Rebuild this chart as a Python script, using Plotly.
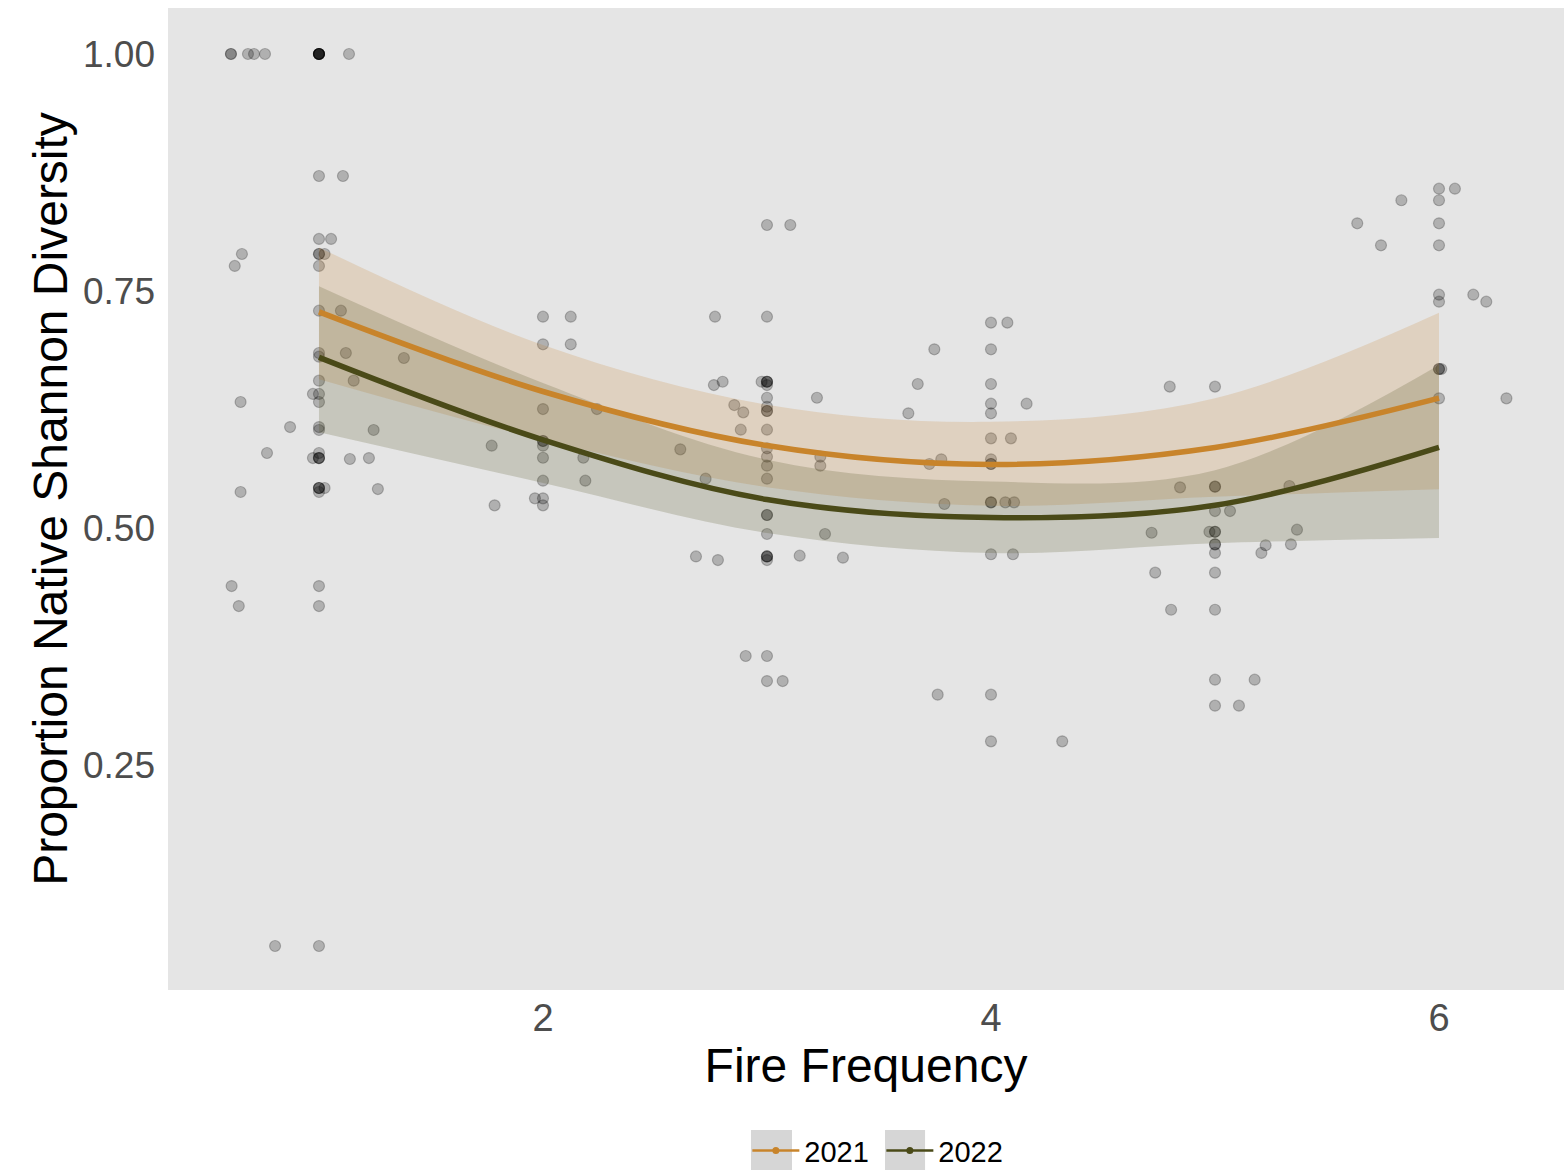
import plotly.graph_objects as go

# Plot-level observations: fire frequency vs. proportion native Shannon diversity
fire_freq = [
    0.607, 0.607, 0.683, 0.710, 0.759, 1.0, 1.0, 1.0, 1.0, 1.0, 1.0, 1.0, 1.134,
    1.0, 1.107, 1.0, 1.054, 0.656, 1.0, 1.0, 1.025, 0.624, 1.0, 1.0, 1.098,
    1.0, 1.12, 1.379, 1.0, 1.0, 1.155, 0.973, 1.0, 1.0, 0.65,
    0.871, 1.0, 1.0, 1.244, 0.768, 1.0, 0.973, 1.0, 1.0, 1.0, 1.138, 1.223,
    0.65, 1.0, 1.0, 1.0, 1.025, 1.0, 1.263, 0.61, 1.0, 0.642, 1.0, 0.804, 1.0,
    2.0, 2.124, 2.0, 2.124, 2.0, 2.241, 1.771, 2.0, 2.0, 2.0, 2.0, 2.18,
    2.0, 2.189, 1.964, 2.0, 2.0, 1.784, 2.613,
    3.0, 3.104, 2.768, 3.0, 2.763, 2.802, 2.976, 3.0, 3.0, 3.0, 3.0,
    3.0, 3.223, 2.854, 2.894, 3.0, 3.0, 3.0, 2.883, 3.0,
    3.0, 3.0, 3.238, 3.0, 3.238, 2.726, 3.0, 3.0, 3.0, 3.0, 3.259,
    2.683, 2.781, 3.0, 3.0, 3.0, 3.0, 3.146, 3.339, 2.905, 3.0, 3.0, 3.07,
    4.0, 4.073, 3.747, 4.0, 3.673, 4.0, 4.0, 4.159, 3.631, 4.0, 4.0, 4.089,
    3.725, 3.778, 4.0, 4.0, 4.0, 3.792, 4.0, 4.0, 4.064, 4.103, 4.0, 4.098,
    3.762, 4.0, 4.0, 4.318,
    4.798, 5.0, 4.844, 5.0, 5.0, 5.332, 5.0, 5.067, 4.717, 4.975, 5.0, 5.0,
    5.366, 5.0, 5.0, 5.0, 5.226, 5.207, 5.339, 4.733, 5.0, 4.804, 5.0,
    5.0, 5.177, 5.0, 5.107,
    6.0, 6.071, 5.832, 6.0, 5.635, 6.0, 5.741, 6.0, 6.0, 6.153, 6.211, 6.0,
    6.0, 6.0, 6.01, 6.0, 6.301,
]
native_div = [
    1.0, 1.0, 1.0, 1.0, 1.0, 1.0, 1.0, 1.0, 1.0, 1.0, 1.0, 1.0, 1.0,
    0.8713, 0.8713, 0.8049, 0.8049, 0.789, 0.789, 0.789, 0.789, 0.7764, 0.7764, 0.7292, 0.7292,
    0.6846, 0.6846, 0.6793, 0.6807, 0.6554, 0.6554, 0.6414, 0.6414, 0.6329, 0.6329,
    0.6065, 0.6065, 0.6034, 0.6034, 0.5791, 0.5791, 0.5738, 0.5738, 0.5738, 0.5738, 0.5728, 0.5738,
    0.538, 0.5422, 0.5422, 0.5422, 0.5422, 0.538, 0.5411, 0.4388, 0.4388, 0.4177, 0.4177, 0.0591, 0.0591,
    0.7229, 0.7229, 0.6938, 0.6938, 0.6255, 0.6255, 0.5868, 0.5918, 0.5918, 0.5868, 0.5741, 0.5741,
    0.5499, 0.5499, 0.5313, 0.5313, 0.5239, 0.5239, 0.583,
    0.8196, 0.8196, 0.7229, 0.7229, 0.6508, 0.6543, 0.6543, 0.6543, 0.6543, 0.6543, 0.6508,
    0.6374, 0.6374, 0.6297, 0.622, 0.6279, 0.6234, 0.6234, 0.6037, 0.6037,
    0.5841, 0.5752, 0.5752, 0.5657, 0.5657, 0.552, 0.552, 0.5137, 0.5137, 0.4937, 0.4937,
    0.47, 0.4662, 0.47, 0.47, 0.47, 0.4662, 0.4708, 0.4687, 0.365, 0.365, 0.3386, 0.3386,
    0.7166, 0.7166, 0.6885, 0.6885, 0.6519, 0.6519, 0.6311, 0.6311, 0.621, 0.621, 0.5946, 0.5946,
    0.5675, 0.5725, 0.5725, 0.5675, 0.5675, 0.5253, 0.5271, 0.5271, 0.5271, 0.5271, 0.4723, 0.4723,
    0.3242, 0.3242, 0.275, 0.275,
    0.6491, 0.6491, 0.5429, 0.5436, 0.5436, 0.5443, 0.5179, 0.5179, 0.495, 0.496, 0.496, 0.496,
    0.4982, 0.4828, 0.4828, 0.4737, 0.4818, 0.4737, 0.4828, 0.4529, 0.4529, 0.4138, 0.4138,
    0.34, 0.34, 0.3126, 0.3126,
    0.8579, 0.8579, 0.8457, 0.8457, 0.8214, 0.8214, 0.7982, 0.7982, 0.7461, 0.7461, 0.7387, 0.7387,
    0.6677, 0.6677, 0.6677, 0.6368, 0.6368,
]

# Quadratic smooths by survey year (fitted value and 95% CI)
fit_x = [1, 2, 3, 4, 5, 6]
fit_2021 = [0.728, 0.644, 0.587, 0.567, 0.585, 0.637]
lo_2021 = [0.657, 0.593, 0.543, 0.5235, 0.533, 0.541]
hi_2021 = [0.796, 0.693, 0.630, 0.612, 0.637, 0.727]
fit_2022 = [0.680, 0.593, 0.530, 0.511, 0.524, 0.585]
lo_2022 = [0.601, 0.5475, 0.4947, 0.4736, 0.484, 0.4895]
hi_2022 = [0.755, 0.653, 0.572, 0.549, 0.561, 0.672]

years = ["2021", "2022"]
line_colors = {"2021": "#C8842B", "2022": "#4A4A18"}
band_colors = {"2021": "rgba(200,132,43,0.2)", "2022": "rgba(74,74,24,0.2)"}
fits = {"2021": (fit_2021, lo_2021, hi_2021), "2022": (fit_2022, lo_2022, hi_2022)}

x_ticks = [2, 4, 6]
y_ticks = [0.25, 0.50, 0.75, 1.00]
y_tick_text = ["0.25", "0.50", "0.75", "1.00"]

fig = go.Figure()

fig.add_trace(go.Scatter(
    x=fire_freq, y=native_div, mode="markers", showlegend=False,
    marker=dict(size=11, color="rgba(0,0,0,0.23)",
                line=dict(width=1.2, color="rgba(0,0,0,0.23)")),
))

# confidence ribbons: lower edge, then upper edge filled down to it
for yr in years:
    fit, lo, hi = fits[yr]
    fig.add_trace(go.Scatter(
        x=fit_x, y=lo, mode="lines", line=dict(width=0, shape="spline"),
        hoverinfo="skip", showlegend=False,
    ))
    fig.add_trace(go.Scatter(
        x=fit_x, y=hi, mode="lines", line=dict(width=0, shape="spline"),
        fill="tonexty", fillcolor=band_colors[yr], hoverinfo="skip", showlegend=False,
    ))

for yr in years:
    fit, lo, hi = fits[yr]
    fig.add_trace(go.Scatter(
        x=fit_x, y=fit, mode="lines", showlegend=False,
        line=dict(color=line_colors[yr], width=5.5, shape="spline"),
    ))

# legend entries
for yr in years:
    fig.add_trace(go.Scatter(
        x=[None], y=[None], mode="lines+markers", name=yr,
        line=dict(color=line_colors[yr], width=2.5),
        marker=dict(color=line_colors[yr], size=7),
    ))

# grey key backgrounds behind the legend symbols
key_boxes = [(0.4176, 0.4470), (0.5136, 0.5423)]
shapes = [
    dict(type="rect", xref="paper", yref="paper", x0=a, x1=b, y0=-0.1833, y1=-0.1426,
         fillcolor="#D6D6D6", line=dict(width=0), layer="below")
    for a, b in key_boxes
]

font_family = "Liberation Sans, Arial, Helvetica, sans-serif"
fig.update_layout(
    width=1564, height=1172,
    margin=dict(l=168, r=0, t=8, b=182, autoexpand=False),
    paper_bgcolor="white", plot_bgcolor="#E5E5E5",
    font=dict(family=font_family, color="black"),
    shapes=shapes,
    legend=dict(orientation="h", traceorder="normal", x=0.511, xanchor="center",
                yref="container", y=0.040, yanchor="top", itemwidth=47,
                entrywidth=72, entrywidthmode="pixels",
                font=dict(size=29, color="black"), bgcolor="rgba(0,0,0,0)"),
    xaxis=dict(
        range=[0.326, 6.558], tickvals=x_ticks, showgrid=False, zeroline=False,
        showline=False, ticks="", ticklabelstandoff=2, automargin=False,
        tickfont=dict(size=38, color="#4D4D4D"),
        title=dict(text="Fire Frequency", font=dict(size=48, color="black"), standoff=0),
    ),
    yaxis=dict(
        range=[0.0127, 1.0485], tickvals=y_ticks, ticktext=y_tick_text,
        showgrid=False, zeroline=False, showline=False, ticks="", ticklabelstandoff=12,
        automargin=False,
        tickfont=dict(size=37, color="#4D4D4D"),
        title=dict(text="Proportion Native Shannon Diversity", font=dict(size=48, color="black"), standoff=0),
    ),
)

fig.write_html("out.html")
